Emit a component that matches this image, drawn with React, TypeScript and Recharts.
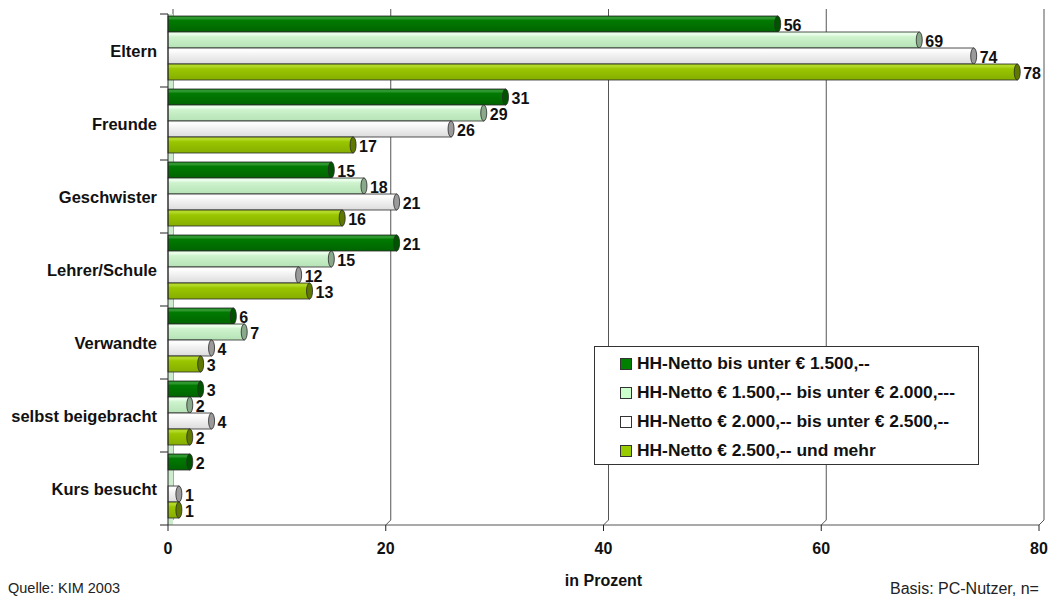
import React from 'react';
import {
  BarChart,
  Bar,
  XAxis,
  YAxis,
  CartesianGrid,
  Legend,
  LabelList,
  ReferenceArea,
  Label,
} from 'recharts';

// Categories and the four household-income series (values in percent)
const categories = [
  'Eltern',
  'Freunde',
  'Geschwister',
  'Lehrer/Schule',
  'Verwandte',
  'selbst beigebracht',
  'Kurs besucht',
];
const seriesNames = [
  'HH-Netto bis unter € 1.500,--',
  'HH-Netto € 1.500,-- bis unter € 2.000,---',
  'HH-Netto € 2.000,-- bis unter € 2.500,--',
  'HH-Netto € 2.500,-- und mehr',
];
const under1500 = [56, 31, 15, 21, 6, 3, 2];
const from1500 = [69, 29, 18, 15, 7, 2, 0];
const from2000 = [74, 26, 21, 12, 4, 4, 1];
const from2500 = [78, 17, 16, 13, 3, 2, 1];
const xTicks = [0, 20, 40, 60, 80];

const data = categories.map((name, i) => ({
  name,
  s0: under1500[i],
  s1: from1500[i],
  s2: from2000[i],
  s3: from2500[i],
}));

const FONT = "'Liberation Sans', Arial, Helvetica, sans-serif";
const W = 1052;
const H = 599;
const MARGIN = { top: 14, right: 13, bottom: 0, left: 0 };
const Y_AXIS_W = 168;
const X_AXIS_H = 74;
const PLOT_LEFT = MARGIN.left + Y_AXIS_W;
const PLOT_H = H - MARGIN.top - MARGIN.bottom - X_AXIS_H;
const BAND = PLOT_H / categories.length;
const DEPTH = 5; // 3D depth offset of the back wall
const LIFT = 3; // cylinders sit slightly towards the back

type Palette = { id: string; legend: string; stops: [number, string][]; cap: string };

const palettes: Palette[] = [
  {
    id: 'g0',
    legend: '#008000',
    stops: [[0, '#0b7d0b'], [0.12, '#3a9f3a'], [0.28, '#017a01'], [1, '#006400']],
    cap: '#005400',
  },
  {
    id: 'g1',
    legend: '#ccffcc',
    stops: [[0, '#d8fbd8'], [0.12, '#f0fff0'], [0.3, '#cdf3cd'], [1, '#b6e2b6']],
    cap: '#8aa88a',
  },
  {
    id: 'g2',
    legend: '#ffffff',
    stops: [[0, '#f2f2f2'], [0.12, '#ffffff'], [0.4, '#f3f3f3'], [1, '#dcdcdc']],
    cap: '#9a9a9a',
  },
  {
    id: 'g3',
    legend: '#99cc00',
    stops: [[0, '#a2cc10'], [0.12, '#b8dc30'], [0.3, '#99c600'], [1, '#86ad00']],
    cap: '#5f7800',
  },
];

const makeCylinder = (pal: Palette) => (props: any) => {
  const { x, y, width, height } = props;
  if (!width || width <= 0) return <g />;
  const yy = y - LIFT;
  const rx = 3;
  return (
    <g>
      <rect
        x={x}
        y={yy}
        width={width}
        height={height}
        fill={`url(#${pal.id})`}
        stroke="#2b2b2b"
        strokeWidth={0.8}
      />
      <ellipse
        cx={x + width}
        cy={yy + height / 2}
        rx={rx}
        ry={height / 2}
        fill={pal.cap}
        stroke="#2b2b2b"
        strokeWidth={0.8}
      />
    </g>
  );
};

const ValueLabel = (props: any) => {
  const { x, y, width, height, value } = props;
  if (!value) return null;
  return (
    <text
      x={x + width + 6}
      y={y - LIFT + height / 2 + 1}
      dominantBaseline="central"
      fontFamily={FONT}
      fontWeight="bold"
      fontSize={16}
      fill="#111"
    >
      {value}
    </text>
  );
};

const CategoryTick = (props: any) => {
  const { x, y, payload, index } = props;
  const half = BAND / 2;
  return (
    <g>
      <text
        x={x}
        y={y}
        textAnchor="end"
        dominantBaseline="central"
        fontFamily={FONT}
        fontWeight="bold"
        fontSize={16.5}
        fill="#111"
      >
        {payload.value}
      </text>
      <line x1={PLOT_LEFT - 8} x2={PLOT_LEFT} y1={y - half} y2={y - half} stroke="#222" />
      {index === categories.length - 1 && (
        <line x1={PLOT_LEFT - 8} x2={PLOT_LEFT} y1={y + half} y2={y + half} stroke="#222" />
      )}
    </g>
  );
};

// Vertical grid drawn on the back wall, joined to the floor by a short diagonal
const BackGridLine = (props: any) => {
  const { x1, y1, y2 } = props;
  return (
    <g key={props.key}>
      <line x1={x1 + DEPTH} y1={y1 - DEPTH} x2={x1 + DEPTH} y2={y2 - DEPTH} stroke="#555" strokeWidth={1} />
      <line x1={x1} y1={y2} x2={x1 + DEPTH} y2={y2 - DEPTH} stroke="#555" strokeWidth={1} />
    </g>
  );
};

const LegendBox = () => (
  <div
    style={{
      width: '100%',
      height: '100%',
      boxSizing: 'border-box',
      border: '1px solid #333',
      background: '#fff',
      paddingTop: 2,
    }}
  >
    {seriesNames.map((s, i) => (
      <div
        key={s}
        style={{
          display: 'flex',
          alignItems: 'center',
          height: 29,
          paddingLeft: 25,
          fontFamily: FONT,
          fontWeight: 'bold',
          fontSize: 17.4,
          color: '#111',
          whiteSpace: 'nowrap',
        }}
      >
        <span
          style={{
            display: 'inline-block',
            width: 10,
            height: 10,
            border: '1px solid #333',
            background: palettes[i].legend,
            marginRight: 5,
          }}
        />
        {s}
      </div>
    ))}
  </div>
);

const noteStyle: React.CSSProperties = {
  position: 'absolute',
  top: 581,
  fontSize: 14.5,
  lineHeight: '15px',
  fontFamily: FONT,
  color: '#222',
  whiteSpace: 'nowrap',
};

export default function App() {
  return (
    <div
      style={{
        position: 'absolute',
        left: 0,
        top: 0,
        width: W,
        height: H,
        background: '#fff',
        fontFamily: FONT,
        overflow: 'hidden',
      }}
    >
      <BarChart
        width={W}
        height={H}
        data={data}
        layout="vertical"
        margin={MARGIN}
        barGap={0}
        barSize={16}
      >
        <defs>
          {palettes.map((p) => (
            <linearGradient key={p.id} id={p.id} x1="0" y1="0" x2="0" y2="1">
              {p.stops.map(([o, c]) => (
                <stop key={o} offset={o} stopColor={c} />
              ))}
            </linearGradient>
          ))}
        </defs>
        <ReferenceArea x1={0} x2={0.46} fill="#cdeccd" fillOpacity={1} stroke="none" />
        <CartesianGrid horizontal={false} vertical={BackGridLine as any} />
        <XAxis
          type="number"
          domain={[0, 80]}
          ticks={xTicks}
          height={X_AXIS_H}
          axisLine={{ stroke: '#555' }}
          tickLine={{ stroke: '#222' }}
          tickSize={6}
          tickMargin={12}
          tick={{ fontFamily: FONT, fontWeight: 'bold', fontSize: 16, fill: '#111' }}
        >
          <Label
            value="in Prozent"
            position="insideBottom"
            offset={13}
            style={{ fontFamily: FONT, fontWeight: 'bold', fontSize: 16, fill: '#111' }}
          />
        </XAxis>
        <YAxis
          type="category"
          dataKey="name"
          width={Y_AXIS_W}
          axisLine={{ stroke: '#222' }}
          tickLine={false}
          tickSize={0}
          tickMargin={11}
          tick={<CategoryTick />}
          interval={0}
        />
        {(['s0', 's1', 's2', 's3'] as const).map((k, i) => (
          <Bar
            key={k}
            dataKey={k}
            name={seriesNames[i]}
            fill={palettes[i].legend}
            shape={makeCylinder(palettes[i])}
            isAnimationActive={false}
          >
            <LabelList dataKey={k} content={<ValueLabel />} />
          </Bar>
        ))}
        <Legend
          layout="vertical"
          align="center"
          verticalAlign="middle"
          content={<LegendBox />}
          wrapperStyle={{ position: 'absolute', left: 594, top: 346, width: 385, height: 119 }}
        />
      </BarChart>
      <div style={{ ...noteStyle, left: 8 }}>Quelle: KIM 2003</div>
      <div style={{ ...noteStyle, left: 890, fontSize: 16 }}>Basis: PC-Nutzer, n=</div>
    </div>
  );
}
